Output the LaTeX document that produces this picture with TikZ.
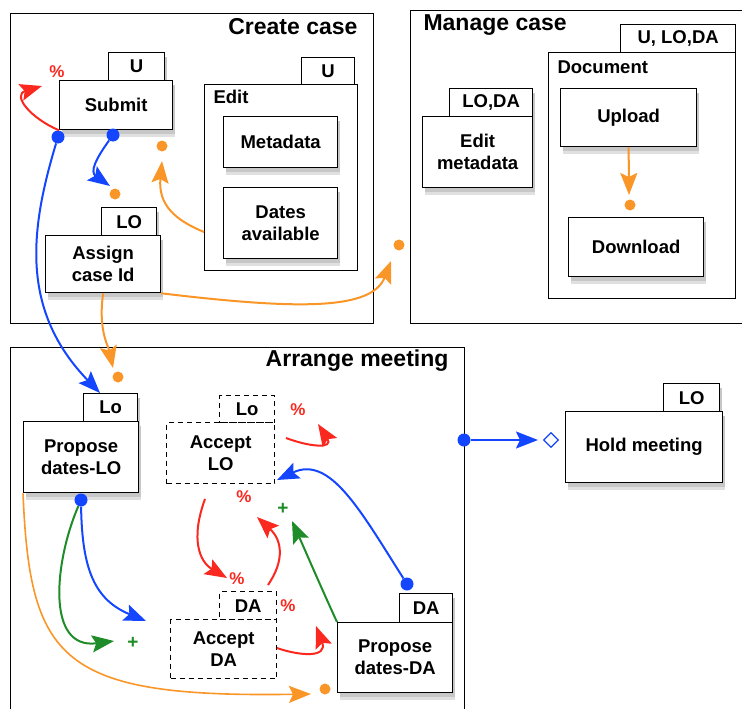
\documentclass[tikz,border=0pt]{standalone}
\usepackage{fontspec}
\setmainfont{Liberation Sans}
\usetikzlibrary{arrows.meta,shadows,shapes.geometric}
\definecolor{cblue}{RGB}{20,70,255}
\definecolor{corange}{RGB}{250,150,40}
\definecolor{cred}{RGB}{250,40,30}
\definecolor{cgreen}{RGB}{30,140,40}
\tikzset{
  txt/.style={font=\fontsize{18.5}{22}\selectfont\bfseries},
  shad/.style={preaction={fill=black!12, transform canvas={xshift=2pt,yshift=-7pt}},
               preaction={fill=black!22, transform canvas={xshift=2pt,yshift=-4pt}}},
  box/.style={txt, draw, fill=white, line width=1.3pt, align=center, inner sep=0pt, anchor=north west, shad},
  dbox/.style={txt, draw, fill=white, line width=1.3pt, dashed, dash pattern=on 5pt off 4pt, align=center, inner sep=0pt, anchor=north west},
  frame/.style={draw, line width=1.3pt, anchor=north west, inner sep=0pt},
  title/.style={font=\fontsize{23}{23}\selectfont\bfseries},
  arr/.style={line width=2pt, -{Stealth[length=22pt,width=17pt,inset=4pt]}},
  bdot/.style={circle, fill=cblue, inner sep=0pt, minimum size=13pt},
  odot/.style={circle, fill=corange, inner sep=0pt, minimum size=11pt},
  pct/.style={text=cred, font=\fontsize{17}{17}\selectfont\bfseries},
  plus/.style={text=cgreen, font=\fontsize{19}{19}\selectfont\bfseries},
}
\begin{document}
\begin{tikzpicture}[x=1pt,y=-1pt]
\useasboundingbox (0,0) rectangle (742,709);
% ---------- frames
\node[frame, minimum width=363pt, minimum height=310pt] (create) at (10,13) {};
\node[title, anchor=east] (createT) at (361,27) {Create case};
\node[frame, minimum width=340pt, minimum height=313pt] (manage) at (410,10) {};
\node[title, anchor=west] (manageT) at (420,25) {Manage case};
\node[frame, minimum width=454pt, minimum height=370pt] (arrange) at (10,347) {};
\node[title, anchor=east] (arrangeT) at (452,361) {Arrange meeting};
% ---------- Create case
\node[box, minimum width=56pt, minimum height=28pt] (submitTab) at (108,52) {U};
\node[box, minimum width=113pt, minimum height=49pt] (submit) at (59,80) {Submit};
\node[frame, txt, fill=white, minimum width=53pt, minimum height=27pt] (editTab) at (301,57) {U};
\node[frame, fill=white, minimum width=153pt, minimum height=186pt] (edit) at (204,84) {};
\node[txt, anchor=west] (editT) at (210,97) {Edit};
\node[box, minimum width=114pt, minimum height=51pt] (meta) at (223,116) {Metadata};
\node[box, minimum width=114pt, minimum height=71pt] (dates) at (223,187) {Dates\\available};
\node[box, minimum width=55pt, minimum height=28pt] (assignTab) at (101,207) {LO};
\node[box, minimum width=115pt, minimum height=57pt] (assign) at (45,235) {Assign\\case Id};
% ---------- Manage case
\node[box, minimum width=83pt, minimum height=28pt] (emTab) at (449,88) {LO,DA};
\node[box, minimum width=110pt, minimum height=71pt] (editmeta) at (422,116) {Edit\\metadata};
\node[frame, fill=white, minimum width=115pt, minimum height=28pt, txt] (docTab) at (620,24) {U, LO,DA};
\node[frame, fill=white, minimum width=187pt, minimum height=246pt] (doc) at (548,52) {};
\node[txt, anchor=west] (docT) at (554,67) {Document};
\node[box, minimum width=136pt, minimum height=58pt] (upload) at (560,88) {Upload};
\node[box, minimum width=135pt, minimum height=59pt] (download) at (568,217) {Download};
% ---------- Arrange meeting
\node[box, minimum width=54pt, minimum height=28pt] (ploTab) at (83,393) {Lo};
\node[box, minimum width=115pt, minimum height=71pt] (plo) at (23,421) {Propose\\dates-LO};
\node[dbox, minimum width=55pt, minimum height=27pt] (aloTab) at (219,395) {Lo};
\node[dbox, minimum width=108pt, minimum height=61pt] (alo) at (166,422) {Accept\\LO};
\node[dbox, minimum width=57pt, minimum height=28pt] (adaTab) at (219,591) {DA};
\node[dbox, minimum width=106pt, minimum height=59pt] (ada) at (170,619) {Accept\\DA};
\node[box, minimum width=53pt, minimum height=29pt] (pdaTab) at (399,593) {DA};
\node[box, minimum width=115pt, minimum height=70pt] (pda) at (337,622) {Propose\\dates-DA};
\node[box, minimum width=56pt, minimum height=28pt] (holdTab) at (663,383) {LO};
\node[box, minimum width=157pt, minimum height=71pt] (hold) at (565,411) {Hold meeting};
% ---------- dots, marks
\node[bdot] (d1) at (58,137) {};
\node[bdot] (d2) at (113,135) {};
\node[odot] (o1) at (115,194) {};
\node[odot] (o2) at (162,146) {};
\node[odot] (o3) at (118,377) {};
\node[odot] (o4) at (399,245) {};
\node[odot] (o5) at (630,205) {};
\node[odot] (o6) at (325,689) {};
\node[bdot] (d3) at (464,440) {};
\node[diamond, draw=cblue, fill=white, line width=1.3pt, inner sep=0pt, minimum size=15pt] (dia) at (551,440) {};
\node[bdot] (d4) at (81,500) {};
\node[bdot] (d5) at (407,584) {};
\node[pct] (p1) at (57,72) {\%};
\node[pct] (p2) at (298,410) {\%};
\node[pct] (p3) at (244,497) {\%};
\node[pct] (p4) at (237,579) {\%};
\node[pct] (p5) at (288,606) {\%};
\node[plus] (g1) at (283,509) {+};
\node[plus] (g2) at (133,643) {+};
% ---------- connector end points
\coordinate (e1) at (42,86);
\coordinate (e2) at (110,186);
\coordinate (e3) at (162,161);
\coordinate (e4) at (113,368);
\coordinate (e5) at (391,261);
\coordinate (e6) at (100,393);
\coordinate (e7) at (629,195);
\coordinate (e8) at (538,440);
\coordinate (e9) at (146,621);
\coordinate (e10) at (114,641);
\coordinate (e11) at (311,694);
\coordinate (e12) at (227,578);
\coordinate (e13) at (257,517);
\coordinate (e14) at (292,521);
\coordinate (e15) at (277,480);
\coordinate (e16) at (318,424);
\coordinate (e17) at (316,626);
\coordinate (s1) at (205,499);
\coordinate (s2) at (268,585);
\coordinate (s3) at (286,438);
\coordinate (s4) at (277,648);
% ---------- connectors
\draw[arr, cred] (submit.south west) .. controls (30,118) and (12,95) .. (e1);
\draw[arr, cblue] (d2) .. controls (95,160) and (90,172) .. (e2);
\draw[arr, corange] (edit.west |- 0,232) .. controls (175,220) and (158,205) .. (e3);
\draw[arr, corange] (assign.south) .. controls (98,330) and (108,345) .. (e4);
\draw[arr, corange] (assign.south east) .. controls (300,310) and (372,310) .. (e5);
\draw[arr, cblue] (d1) .. controls (30,230) and (20,310) .. (e6);
\draw[arr, corange] (upload.south) -- (e7);
\draw[arr, cblue] (d3) -- (e8);
\draw[arr, cblue] (d4) .. controls (82,570) and (95,600) .. (e9);
\draw[arr, cgreen] (d4) .. controls (55,560) and (45,650) .. (e10);
\draw[arr, corange, line width=1.6pt] (plo.south west) .. controls (30,660) and (60,698) .. (e11);
\draw[arr, cred] (s1) .. controls (190,540) and (200,562) .. (e12);
\draw[arr, cred] (s2) .. controls (285,560) and (282,540) .. (e13);
\draw[arr, cgreen] (pda.north west) .. controls (320,585) and (305,550) .. (e14);
\draw[arr, cblue] (d5) .. controls (360,510) and (330,455) .. (e15);
\draw[arr, cred] (s3) .. controls (310,447) and (334,449) .. (e16);
\draw[arr, cred] (s4) .. controls (300,656) and (328,658) .. (e17);
\end{tikzpicture}
\end{document}
